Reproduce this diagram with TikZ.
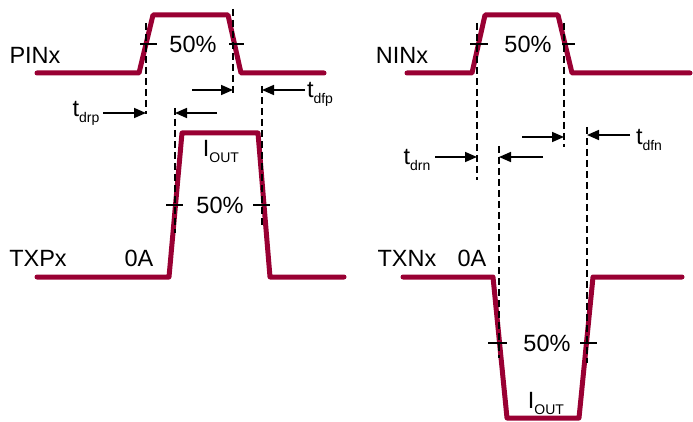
\documentclass[tikz,border=0pt]{standalone}
\usepackage{fontspec}
\setmainfont{Liberation Sans}
\usetikzlibrary{arrows.meta}
\definecolor{wavecol}{RGB}{153,0,51}
\newcommand\subtxt[1]{\raisebox{-6pt}{\fontsize{14}{16}\selectfont #1}}
\begin{document}
\begin{tikzpicture}[x=1pt,y=-1pt,
 wave/.style={draw=wavecol, line width=5pt, line cap=round, line join=round},
 guide/.style={draw=black, line width=1.2pt, dash pattern=on 7pt off 4pt},
 tickmark/.style={draw=black, line width=1.3pt},
 tarrow/.style={draw=black, line width=1.6pt, -{Triangle[length=12pt,width=10pt]}},
 lbl/.style={font=\fontsize{23.5}{27}\selectfont, inner sep=0pt}]
\useasboundingbox (0,0) rectangle (693,422);
% waveforms
\draw[wave] (37,73) -- (139,73) -- (153,15) -- (228,15) -- (241,73) -- (324,73);
\draw[wave] (37,277) -- (169,277) -- (182,133) -- (258,133) -- (270,277) -- (344,277);
\draw[wave] (407,73) -- (472,73) -- (485,15) -- (558,15) -- (572,73) -- (690,73);
\draw[wave] (403,277) -- (493,277) -- (507,418) -- (579,418) -- (593,277) -- (682,277);
% 50% ticks
\draw[tickmark] (140,44) -- (157,44);
\draw[tickmark] (229,44) -- (244,44);
\draw[tickmark] (166,205) -- (183,205);
\draw[tickmark] (253,205) -- (270,205);
\draw[tickmark] (470,44) -- (488,44);
\draw[tickmark] (562,44) -- (575,44);
\draw[tickmark] (488,343) -- (507,343);
\draw[tickmark] (580,343) -- (597,343);
% guides
\draw[guide] (146,23) -- (146,114);
\draw[guide] (233,9) -- (233,95);
\draw[guide] (175,108) -- (175,233);
\draw[guide] (262,86) -- (262,227);
\draw[guide] (477,23) -- (477,180);
\draw[guide] (564,23) -- (564,147);
\draw[guide] (499,146) -- (499,358);
\draw[guide] (587,127) -- (587,363);
% arrow endpoints
\coordinate (a1s) at (103,113); \coordinate (a1e) at (146,113);
\coordinate (a2s) at (192,90);  \coordinate (a2e) at (233,90);
\coordinate (a3s) at (217,113); \coordinate (a3e) at (175,113);
\coordinate (a4s) at (305,90);  \coordinate (a4e) at (262,90);
\coordinate (b1s) at (435,157); \coordinate (b1e) at (477,157);
\coordinate (b2s) at (522,137); \coordinate (b2e) at (564,137);
\coordinate (b3s) at (543,157); \coordinate (b3e) at (499,157);
\coordinate (b4s) at (630,135); \coordinate (b4e) at (587,135);
\draw[tarrow] (a1s) -- (a1e);
\draw[tarrow] (a2s) -- (a2e);
\draw[tarrow] (a3s) -- (a3e);
\draw[tarrow] (a4s) -- (a4e);
\draw[tarrow] (b1s) -- (b1e);
\draw[tarrow] (b2s) -- (b2e);
\draw[tarrow] (b3s) -- (b3e);
\draw[tarrow] (b4s) -- (b4e);
% labels
\node[lbl] (pin) at (35,55) {PINx};
\node[lbl] (p50a) at (193,44) {50\%};
\node[lbl] (txp) at (38,258) {TXPx};
\node[lbl] (p0a) at (139,258) {0A};
\node[lbl] (p50b) at (220,205) {50\%};
\node[lbl] (piout) at (221,151) {I\subtxt{OUT}};
\node[lbl] (tdrp) at (86,113) {t\subtxt{drp}};
\node[lbl] (tdfp) at (320,94) {t\subtxt{dfp}};
\node[lbl] (nin) at (402,55) {NINx};
\node[lbl] (n50a) at (528,44) {50\%};
\node[lbl] (txn) at (407,258) {TXNx};
\node[lbl] (n0a) at (472,258) {0A};
\node[lbl] (n50b) at (547,343) {50\%};
\node[lbl] (niout) at (546,403) {I\subtxt{OUT}};
\node[lbl] (tdrn) at (417,160) {t\subtxt{drn}};
\node[lbl] (tdfn) at (649,140) {t\subtxt{dfn}};
\end{tikzpicture}
\end{document}
